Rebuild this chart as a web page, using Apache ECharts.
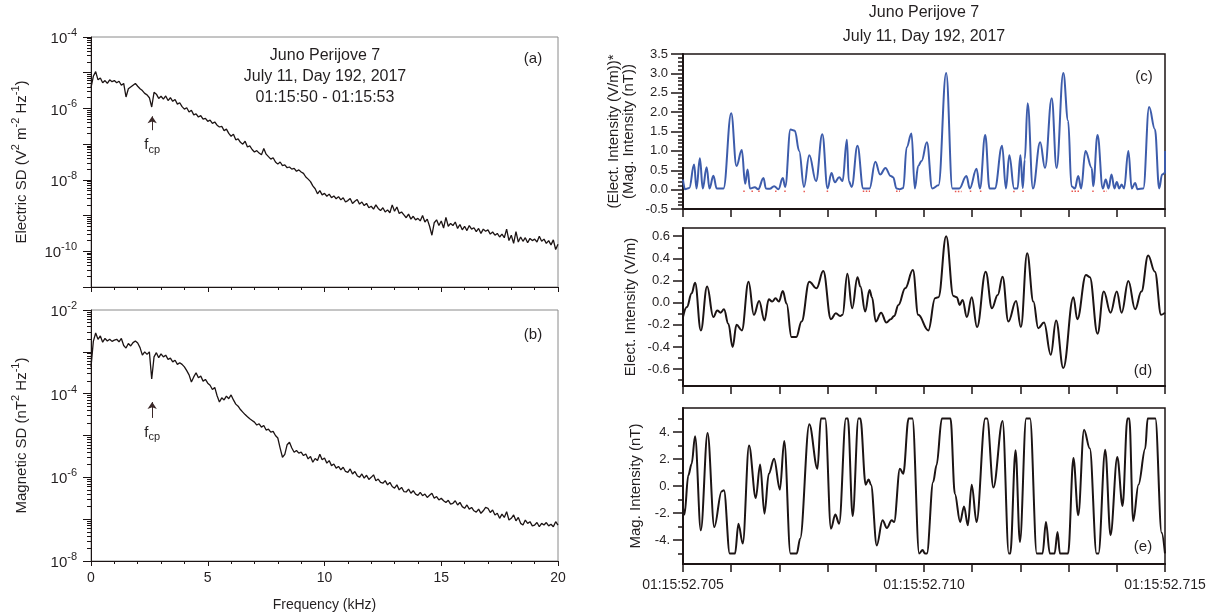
<!DOCTYPE html>
<html><head><meta charset="utf-8">
<script src="https://cdn.jsdelivr.net/npm/echarts@6/dist/echarts.min.js"></script>
<style>html,body{margin:0;padding:0;background:#fff}#chart{width:1218px;height:614px}</style>
</head><body><div id="chart"></div>
<script>
// ---------- DATA ----------
const freqStepKHz = 0.1;
// log10 of Electric spectral density (V^2 m^-2 Hz^-1), sampled every 0.1 kHz from 0 to 20 kHz
const electricSDExp = [
 -5.42,-5.1,-4.97,-5.2,-5.15,-5.28,-5.22,-5.3,-5.2,-5.25,
 -5.22,-5.28,-5.24,-5.35,-5.3,-5.68,-5.45,-5.4,-5.35,-5.3,
 -5.38,-5.45,-5.5,-5.58,-5.62,-5.7,-5.96,-5.55,-5.6,-5.72,
 -5.66,-5.74,-5.65,-5.78,-5.7,-5.8,-5.75,-5.88,-5.84,-5.95,
 -6.02,-5.98,-6.1,-6.05,-6.18,-6.15,-6.24,-6.2,-6.3,-6.28,
 -6.36,-6.33,-6.42,-6.38,-6.47,-6.52,-6.5,-6.62,-6.58,-6.7,
 -6.78,-6.72,-6.88,-6.85,-6.95,-7.0,-6.92,-7.08,-7.05,-7.15,
 -7.22,-7.18,-7.25,-7.3,-7.12,-7.28,-7.35,-7.42,-7.38,-7.5,
 -7.56,-7.5,-7.6,-7.58,-7.66,-7.64,-7.7,-7.68,-7.76,-7.72,
 -7.78,-7.82,-7.92,-7.98,-8.05,-8.17,-8.25,-8.39,-8.3,-8.42,
 -8.38,-8.46,-8.4,-8.5,-8.45,-8.53,-8.47,-8.56,-8.5,-8.62,
 -8.58,-8.52,-8.66,-8.6,-8.55,-8.68,-8.62,-8.72,-8.66,-8.78,
 -8.74,-8.82,-8.7,-8.8,-8.86,-8.78,-8.9,-8.84,-8.92,-8.7,
 -8.88,-8.76,-8.94,-8.9,-8.98,-9.06,-8.96,-9.1,-9.02,-9.12,
 -9.08,-9.15,-9.0,-9.18,-9.1,-9.3,-9.55,-9.2,-9.12,-9.28,
 -9.15,-9.35,-9.05,-9.3,-9.22,-9.28,-9.18,-9.36,-9.25,-9.4,
 -9.3,-9.42,-9.28,-9.38,-9.34,-9.45,-9.36,-9.5,-9.38,-9.44,
 -9.4,-9.52,-9.46,-9.55,-9.5,-9.6,-9.52,-9.62,-9.38,-9.7,
 -9.55,-9.78,-9.45,-9.74,-9.6,-9.72,-9.62,-9.76,-9.64,-9.7,
 -9.66,-9.74,-9.58,-9.72,-9.66,-9.78,-9.7,-9.82,-9.68,-9.95,
 -9.8];
// log10 of Magnetic spectral density (nT^2 Hz^-1), same frequency grid
const magneticSDExp = [
 -3.36,-2.75,-2.55,-2.7,-2.62,-2.77,-2.68,-2.74,-2.7,-2.75,
 -2.72,-2.7,-2.76,-2.68,-2.85,-2.91,-2.8,-2.86,-2.78,-2.74,
 -2.79,-2.9,-3.08,-3.0,-3.06,-3.0,-3.65,-3.12,-3.02,-3.14,
 -3.05,-3.12,-3.08,-3.18,-3.15,-3.24,-3.2,-3.3,-3.26,-3.3,
 -3.36,-3.45,-3.55,-3.72,-3.6,-3.5,-3.62,-3.58,-3.7,-3.66,
 -3.75,-3.8,-3.9,-3.85,-4.05,-4.2,-4.1,-4.15,-4.06,-4.12,
 -4.03,-4.15,-4.25,-4.3,-4.38,-4.44,-4.5,-4.55,-4.6,-4.64,
 -4.68,-4.75,-4.72,-4.8,-4.76,-4.87,-4.85,-4.92,-4.9,-5.0,
 -5.06,-5.3,-5.52,-5.45,-5.22,-5.16,-5.3,-5.4,-5.36,-5.42,
 -5.4,-5.48,-5.44,-5.56,-5.5,-5.64,-5.55,-5.6,-5.45,-5.58,
 -5.54,-5.66,-5.6,-5.72,-5.68,-5.78,-5.74,-5.82,-5.76,-5.86,
 -5.88,-5.8,-5.92,-5.86,-5.96,-6.0,-5.92,-6.02,-5.95,-6.05,
 -6.0,-5.94,-6.08,-6.04,-6.12,-6.14,-6.08,-6.18,-6.12,-6.22,
 -6.26,-6.18,-6.3,-6.24,-6.34,-6.35,-6.28,-6.38,-6.32,-6.4,
 -6.43,-6.36,-6.44,-6.4,-6.48,-6.43,-6.38,-6.5,-6.46,-6.54,
 -6.5,-6.56,-6.6,-6.55,-6.64,-6.62,-6.56,-6.66,-6.6,-6.7,
 -6.74,-6.66,-6.76,-6.72,-6.8,-6.83,-6.76,-6.86,-6.8,-6.72,
 -6.74,-6.84,-6.78,-6.9,-6.86,-6.98,-6.88,-6.96,-6.82,-7.02,
 -6.98,-6.9,-7.04,-6.96,-7.1,-7.14,-7.02,-7.1,-7.06,-7.16,
 -7.14,-7.08,-7.18,-7.1,-7.14,-7.08,-7.16,-7.12,-7.18,-7.06,
 -7.14];
const fcpKHz = 2.62;
const freqTickLabels = ['0','5','10','15','20'];
const timeTickLabels = ['01:15:52.705','01:15:52.710','01:15:52.715'];
// time in ms after 01:15:52.705, value
const productPoints = [[0,0.26],[0.04,0.01],[0.13,0.04],[0.23,0.65],[0.28,0.03],[0.35,0.81],[0.41,0.03],[0.49,0.58],[0.55,0.03],[0.63,0.36],[0.7,0.03],[0.84,0.03],[1.0,1.97],[1.11,0.61],[1.22,1.02],[1.29,0.15],[1.34,0.52],[1.39,0.03],[1.49,0.06],[1.56,0.01],[1.67,0.3],[1.72,0.03],[1.8,0.02],[1.89,0.09],[1.98,0.01],[2.07,0.3],[2.12,0.07],[2.23,1.55],[2.32,1.52],[2.41,1.0],[2.51,0.07],[2.62,0.89],[2.76,0.22],[2.89,1.43],[3.0,0.03],[3.08,0.43],[3.15,0.19],[3.24,0.32],[3.31,0.22],[3.4,1.29],[3.44,0.22],[3.5,0.07],[3.62,1.13],[3.74,0.03],[3.87,0.03],[3.99,0.72],[4.09,0.39],[4.2,0.56],[4.31,0.35],[4.36,0.32],[4.43,0.03],[4.5,0.01],[4.57,0.04],[4.64,1.09],[4.74,1.45],[4.81,0.03],[4.88,0.61],[4.95,0.74],[5.06,1.22],[5.17,0.03],[5.3,0.11],[5.46,3.01],[5.59,0.03],[5.73,0.03],[5.88,0.35],[5.95,0.03],[6.09,0.54],[6.16,0.03],[6.27,1.41],[6.36,0.03],[6.47,0.03],[6.62,1.13],[6.7,0.03],[6.77,0.89],[6.87,0.03],[6.94,0.03],[7.0,0.89],[7.05,0.04],[7.09,0.78],[7.15,2.23],[7.26,0.03],[7.41,1.22],[7.51,0.56],[7.65,2.36],[7.75,0.56],[7.89,3.01],[7.99,1.78],[8.06,0.09],[8.13,0.03],[8.2,0.35],[8.26,0.03],[8.35,1.0],[8.48,0.56],[8.51,0.09],[8.6,1.41],[8.71,0.03],[8.77,0.26],[8.83,0.03],[8.89,0.39],[8.95,0.03],[9.0,0.2],[9.05,0.03],[9.1,0.13],[9.15,0.03],[9.24,1.0],[9.31,0.03],[9.38,0.17],[9.43,0.01],[9.55,0.03],[9.67,2.13],[9.79,1.56],[9.88,0.03],[9.94,0.39],[10.0,0.43],[10.0,1.0]];
// short negative stretches (red dotted): [start ms, end ms, value]
const productNegSegments = [[1.25,1.31,-0.04],[1.42,1.46,-0.04],[1.56,1.6,-0.04],[1.91,1.94,-0.04],[2.1,2.14,-0.04],[2.5,2.53,-0.05],[2.98,3.02,-0.04],[3.73,3.88,-0.04],[4.42,4.5,-0.04],[5.64,5.78,-0.05],[5.95,6.01,-0.04],[6.16,6.2,-0.04],[6.85,6.89,-0.05],[7.04,7.08,-0.04],[8.06,8.24,-0.04],[8.49,8.53,-0.04],[8.72,8.79,-0.04]];
const elecPoints = [[0,-0.13],[0.08,-0.04],[0.18,0.085],[0.25,0.18],[0.37,-0.25],[0.5,0.145],[0.63,-0.13],[0.71,-0.07],[0.78,-0.09],[0.85,-0.06],[0.94,-0.19],[1.03,-0.4],[1.11,-0.2],[1.22,-0.25],[1.36,0.19],[1.47,-0.11],[1.58,0.015],[1.69,-0.16],[1.78,0.03],[1.85,0.01],[1.92,0.04],[1.99,0.01],[2.07,0.105],[2.15,-0.01],[2.25,-0.31],[2.35,-0.31],[2.46,-0.17],[2.62,0.19],[2.77,0.13],[2.91,0.285],[3.07,-0.15],[3.17,-0.095],[3.26,-0.12],[3.31,-0.11],[3.41,0.26],[3.51,-0.05],[3.62,0.23],[3.68,0.145],[3.78,-0.08],[3.87,0.115],[3.92,0.05],[4.0,-0.17],[4.11,-0.09],[4.22,-0.18],[4.31,-0.15],[4.38,-0.12],[4.47,-0.02],[4.61,0.13],[4.77,0.295],[4.88,-0.11],[5.09,-0.25],[5.23,0.04],[5.3,0.05],[5.46,0.6],[5.61,0.06],[5.68,0.05],[5.74,-0.02],[5.8,0.025],[5.89,-0.13],[5.99,0.05],[6.1,-0.22],[6.28,0.28],[6.41,-0.05],[6.53,0.07],[6.63,0.235],[6.75,-0.17],[6.91,0.015],[7.01,-0.22],[7.14,0.445],[7.27,0.01],[7.37,-0.23],[7.49,-0.18],[7.63,-0.47],[7.74,-0.16],[7.89,-0.59],[8.1,0.05],[8.18,-0.15],[8.36,0.25],[8.44,0.23],[8.6,-0.28],[8.73,0.1],[8.87,-0.09],[9.0,0.1],[9.1,-0.09],[9.24,0.195],[9.38,-0.06],[9.51,0.1],[9.65,0.425],[9.79,0.28],[9.92,-0.11],[10.0,-0.09]];
const magPoints = [[0,-1.6],[0.03,-2.12],[0.11,0.79],[0.18,1.65],[0.25,3.68],[0.37,-3.28],[0.51,3.93],[0.65,-3.04],[0.8,-0.4],[0.85,-0.32],[0.97,-5],[1.08,-5],[1.15,-2.79],[1.24,-4.27],[1.37,3.01],[1.51,-0.89],[1.6,1.6],[1.69,-2.05],[1.78,0.91],[1.89,2.02],[2.01,-0.27],[2.1,3.33],[2.23,-5],[2.36,-5],[2.43,-3.9],[2.62,4.57],[2.79,1.28],[2.86,5],[2.95,5],[3.07,-3.16],[3.16,-2.12],[3.24,-2.79],[3.38,5],[3.42,5],[3.52,-2.22],[3.64,5],[3.68,5],[3.79,0.1],[3.85,0.49],[3.9,0.1],[4.02,-4.4],[4.14,-2.54],[4.23,-3.11],[4.33,-2.54],[4.38,-2.67],[4.5,1.28],[4.57,0.91],[4.68,5],[4.76,5],[4.9,-5],[4.97,-4.75],[5.02,-5],[5.06,-5],[5.19,0.3],[5.26,1.53],[5.37,5],[5.55,5],[5.64,-0.57],[5.75,-2.67],[5.83,-1.51],[5.91,-2.91],[5.99,0.1],[6.09,-2.67],[6.27,5],[6.31,5],[6.44,-0.12],[6.63,4.81],[6.76,-5],[6.79,-5],[6.9,2.64],[6.99,-4.15],[7.12,5],[7.2,5],[7.34,-5],[7.46,-5],[7.53,-2.67],[7.61,-5],[7.71,-5],[7.77,-3.41],[7.82,-5],[7.99,-5],[8.1,2.07],[8.2,-2.17],[8.32,4.17],[8.44,2.77],[8.58,-5],[8.62,-5],[8.76,2.69],[8.87,-3.65],[9.01,2.15],[9.12,-1.48],[9.22,5],[9.26,5],[9.34,-2.59],[9.45,0.1],[9.59,2.77],[9.64,5],[9.8,5],[9.93,-3.46],[10.0,-5]];
const elecTicks = [-0.6,-0.4,-0.2,0,0.2,0.4,0.6];
const elecMinorTicks = [-0.7,-0.5,-0.3,-0.1,0.1,0.3,0.5];
const magTicks = [-4,-2,0,2,4];
const magMinorTicks = [-5,-3,-1,1,3,5];

// ---------- CHART ----------
const FONT = "'Liberation Sans', Arial, Helvetica, sans-serif";
const TXT = '#231f20';
const INK = '#1c1414';
const chart = echarts.init(document.getElementById('chart'), null, {renderer: 'canvas'});

const freqs = electricSDExp.map((_, i) => +(i * freqStepKHz).toFixed(1));
const elecSD = electricSDExp.map((e, i) => [freqs[i], Math.pow(10, e)]);
const magSD = magneticSDExp.map((e, i) => [freqs[i], Math.pow(10, e)]);
function minorLogTicks(lo, hi) { const out = []; for (let n = lo; n < hi; n++) for (let k = 2; k <= 9; k++) out.push(n + Math.log10(k)); return out; }
const negData = [];
productNegSegments.forEach(s => { negData.push([s[0], s[2]], [s[1], s[2]], [s[1], '-']); });

const supRich = {
  n: {fontSize: 15, fontFamily: FONT, color: TXT, verticalAlign: 'bottom'},
  s: {fontSize: 11, fontFamily: FONT, color: TXT, verticalAlign: 'top', padding: [0, 0, 8, 0]}
};
const logLabel = {
  show: true, margin: 14, fontFamily: FONT, color: TXT,
  formatter: v => { const e = Math.round(Math.log10(v)); return e % 2 === 0 ? '{n|10}{s|' + e + '}' : ''; },
  rich: supRich
};
const fcpRich = {
  f: {fontSize: 15, fontFamily: FONT, color: TXT, verticalAlign: 'top'},
  c: {fontSize: 11, fontFamily: FONT, color: TXT, verticalAlign: 'bottom', padding: [7, 0, 0, 0]}
};
function fcpMark(yStart, yEnd) {
  return {
    silent: true, symbol: ['none', 'arrow'], symbolSize: 7, animation: false,
    lineStyle: {color: '#3a2828', width: 1, type: 'solid'},
    label: {show: true, position: 'start', distance: 7, formatter: '{f|f}{c|cp}', rich: fcpRich},
    data: [[{coord: [fcpKHz, Math.pow(10, yStart)]}, {coord: [fcpKHz, Math.pow(10, yEnd)]}]]
  };
}
const gridL = {show: true, borderColor: '#8a8a8a', borderWidth: 1, outerBoundsMode: 'none'};
const gridR = {show: true, borderColor: INK, borderWidth: 1.5, outerBoundsMode: 'none'};

function freqX(idx, showLabels) {
  return {
    gridIndex: idx, type: 'value', min: 0, max: 20, interval: 5,
    axisLine: {show: true, onZero: false, lineStyle: {color: INK, width: 1}},
    axisTick: {show: true, length: 5, lineStyle: {color: INK, width: 1}},
    minorTick: {show: true, splitNumber: 5, length: 3, lineStyle: {color: INK, width: 1}},
    splitLine: {show: false}, minorSplitLine: {show: false},
    axisLabel: {show: showLabels, margin: 10, fontSize: 14, fontFamily: FONT, color: TXT, formatter: v => freqTickLabels[Math.round(v / 5)]},
    name: showLabels ? 'Frequency (kHz)' : '', nameLocation: 'middle', nameGap: 37,
    nameTextStyle: {fontSize: 14, fontFamily: FONT, color: TXT}
  };
}
function timeX(idx, showLabels) {
  return {
    gridIndex: idx, type: 'value', min: 0, max: 10, interval: 1,
    axisLine: {show: true, onZero: false, lineStyle: {color: INK, width: 2}},
    axisTick: {show: true, length: 8, lineStyle: {color: INK, width: 1.5}},
    splitLine: {show: false},
    axisLabel: {show: showLabels, margin: 14, fontSize: 14, fontFamily: FONT, color: TXT,
      formatter: v => (Math.round(v) % 5 === 0 ? timeTickLabels[Math.round(v) / 5] : '')}
  };
}
function minorY(idx, min, max, vals, len, width) {
  return {
    gridIndex: idx, type: 'value', position: 'left', min: min, max: max,
    axisLine: {show: false}, splitLine: {show: false}, axisLabel: {show: false},
    axisTick: {show: true, length: len, customValues: vals, lineStyle: {color: INK, width: width}}
  };
}
const rightName = {fontSize: 15, lineHeight: 15, fontFamily: FONT, color: TXT};
const rightLabel = {fontSize: 13, fontFamily: FONT, color: TXT};

const option = {
  animation: false,
  backgroundColor: '#ffffff',
  title: [
    {text: 'Juno Perijove 7\nJuly 11, Day 192, 2017\n01:15:50 - 01:15:53', left: 325, top: 45, padding: 0, textAlign: 'center',
      textStyle: {fontSize: 16, lineHeight: 21, fontWeight: 'normal', fontFamily: FONT, color: TXT}},
    {text: '(a)', left: 533, top: 51, padding: 0, textAlign: 'center', textStyle: {fontSize: 15, fontWeight: 'normal', fontFamily: FONT, color: TXT}},
    {text: '(b)', left: 533, top: 327, padding: 0, textAlign: 'center', textStyle: {fontSize: 15, fontWeight: 'normal', fontFamily: FONT, color: TXT}},
    {text: 'Juno Perijove 7\nJuly 11, Day 192, 2017', left: 924, top: 1, padding: 0, textAlign: 'center',
      textStyle: {fontSize: 16, lineHeight: 24, fontWeight: 'normal', fontFamily: FONT, color: TXT}},
    {text: '(c)', left: 1144, top: 69, padding: 0, textAlign: 'center', textStyle: {fontSize: 15, fontWeight: 'normal', fontFamily: FONT, color: TXT}},
    {text: '(d)', left: 1143, top: 363, padding: 0, textAlign: 'center', textStyle: {fontSize: 15, fontWeight: 'normal', fontFamily: FONT, color: TXT}},
    {text: '(e)', left: 1143, top: 539, padding: 0, textAlign: 'center', textStyle: {fontSize: 15, fontWeight: 'normal', fontFamily: FONT, color: TXT}}
  ],
  grid: [
    Object.assign({left: 91, top: 37, width: 467, height: 250}, gridL),
    Object.assign({left: 91, top: 310, width: 467, height: 251}, gridL),
    Object.assign({left: 683, top: 54, width: 482, height: 155}, gridR),
    Object.assign({left: 683, top: 228, width: 482, height: 158}, gridR),
    Object.assign({left: 683, top: 408, width: 482, height: 156}, gridR)
  ],
  xAxis: [freqX(0, false), freqX(1, true), timeX(2, false), timeX(3, false), timeX(4, true)],
  yAxis: [
    {gridIndex: 0, type: 'log', logBase: 10, min: 1e-11, max: 1e-4, interval: 1, position: 'left',
      axisLine: {show: true, lineStyle: {color: INK, width: 1}},
      axisTick: {show: true, length: 8, lineStyle: {color: INK}}, splitLine: {show: false},
      axisLabel: logLabel,
      name: '{n|Electric SD (V}{s|2}{n| m}{s|-2}{n| Hz}{s|-1}{n|)}', nameLocation: 'middle', nameGap: 62,
      nameTextStyle: {fontFamily: FONT, color: TXT, rich: supRich}},
    minorY(0, -11, -4, minorLogTicks(-11, -4), 4, 1),
    {gridIndex: 1, type: 'log', logBase: 10, min: 1e-8, max: 1e-2, interval: 1, position: 'left',
      axisLine: {show: true, lineStyle: {color: INK, width: 1}},
      axisTick: {show: true, length: 8, lineStyle: {color: INK}}, splitLine: {show: false},
      axisLabel: logLabel,
      name: '{n|Magnetic SD (nT}{s|2}{n| Hz}{s|-1}{n|)}', nameLocation: 'middle', nameGap: 62,
      nameTextStyle: {fontFamily: FONT, color: TXT, rich: supRich}},
    minorY(1, -8, -2, minorLogTicks(-8, -2), 4, 1),
    {gridIndex: 2, type: 'value', min: -0.5, max: 3.5, interval: 0.5, position: 'left',
      axisLine: {show: true, onZero: false, lineStyle: {color: INK, width: 2}},
      axisTick: {show: true, length: 12, lineStyle: {color: INK, width: 1.5}},
      minorTick: {show: true, splitNumber: 5, length: 5, lineStyle: {color: INK, width: 1.5}},
      splitLine: {show: false}, minorSplitLine: {show: false},
      axisLabel: Object.assign({margin: 15, formatter: v => v.toFixed(1)}, rightLabel),
      name: '(Elect. Intensity (V/m))*\n(Mag. Intensity (nT))', nameLocation: 'middle', nameGap: 47,
      nameTextStyle: rightName},
    {gridIndex: 3, type: 'value', min: -0.752, max: 0.674, position: 'left',
      axisLine: {show: true, onZero: false, lineStyle: {color: INK, width: 2}},
      axisTick: {show: true, length: 10, customValues: elecTicks, lineStyle: {color: INK, width: 1.5}},
      splitLine: {show: false},
      axisLabel: Object.assign({margin: 13, customValues: elecTicks, formatter: v => v.toFixed(1)}, rightLabel),
      name: 'Elect. Intensity (V/m)', nameLocation: 'middle', nameGap: 45,
      nameTextStyle: rightName},
    minorY(3, -0.752, 0.674, elecMinorTicks, 5, 1.5),
    {gridIndex: 4, type: 'value', min: -5.78, max: 5.78, position: 'left',
      axisLine: {show: true, onZero: false, lineStyle: {color: INK, width: 2}},
      axisTick: {show: true, length: 10, customValues: magTicks, lineStyle: {color: INK, width: 1.5}},
      splitLine: {show: false},
      axisLabel: Object.assign({margin: 13, customValues: magTicks, formatter: v => Math.round(v) + '.'}, rightLabel),
      name: 'Mag. Intensity (nT)', nameLocation: 'middle', nameGap: 40,
      nameTextStyle: rightName},
    minorY(4, -5.78, 5.78, magMinorTicks, 5, 1.5)
  ],
  series: [
    {type: 'line', xAxisIndex: 0, yAxisIndex: 0, data: elecSD, showSymbol: false, symbol: 'none',
      lineStyle: {color: INK, width: 1.3}, markLine: fcpMark(-6.61, -6.22)},
    {type: 'line', xAxisIndex: 1, yAxisIndex: 2, data: magSD, showSymbol: false, symbol: 'none',
      lineStyle: {color: INK, width: 1.3}, markLine: fcpMark(-4.58, -4.2)},
    {type: 'line', xAxisIndex: 2, yAxisIndex: 4, data: productPoints, showSymbol: false, symbol: 'none',
      smooth: 0.4, smoothMonotone: 'x', lineStyle: {color: '#3d5cab', width: 2}},
    {type: 'line', xAxisIndex: 2, yAxisIndex: 4, data: negData, showSymbol: false, symbol: 'none', connectNulls: false,
      lineStyle: {color: '#e8574f', width: 1.5, type: 'dotted'}},
    {type: 'line', xAxisIndex: 3, yAxisIndex: 5, data: elecPoints, showSymbol: false, symbol: 'none',
      smooth: 0.4, smoothMonotone: 'x', lineStyle: {color: INK, width: 2}},
    {type: 'line', xAxisIndex: 4, yAxisIndex: 7, data: magPoints, showSymbol: false, symbol: 'none',
      smooth: 0.35, smoothMonotone: 'x', lineStyle: {color: INK, width: 2}}
  ]
};
chart.setOption(option);
</script></body></html>
